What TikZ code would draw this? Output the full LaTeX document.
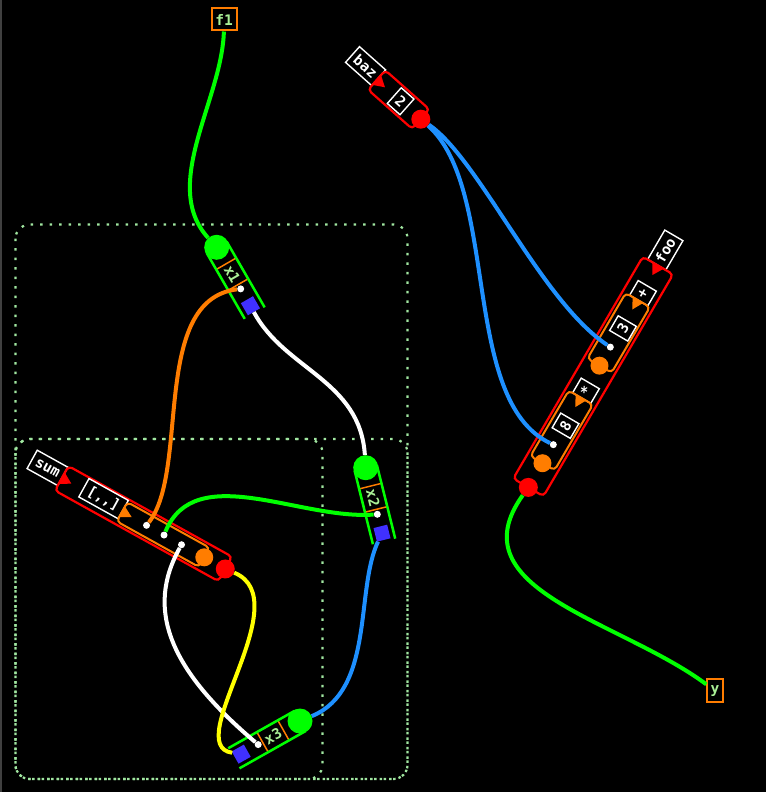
\documentclass[tikz,border=0pt]{standalone}
\usepackage{fontspec}
\setmonofont{DejaVu Sans Mono}
\newcommand\lfont{\ttfamily\bfseries\fontsize{14.5}{14.5}\selectfont}
\definecolor{vgreen}{RGB}{0,255,0}
\definecolor{vorange}{RGB}{255,125,0}
\definecolor{vblue}{RGB}{64,48,255}
\definecolor{wblue}{RGB}{30,144,255}
\definecolor{vyellow}{RGB}{255,255,0}
\definecolor{lgreen}{RGB}{170,240,150}
\definecolor{grpgreen}{RGB}{160,230,160}
\tikzset{
  wire/.style={line width=4pt},
  lbox/.style={draw=white, line width=1.4pt, text=white, font=\lfont, inner sep=0pt, minimum height=21pt},
  vtext/.style={text=lgreen, font=\lfont, inner sep=0pt},
  obox/.style={draw=vorange, line width=2pt, text=lgreen, font=\lfont, inner sep=0pt},
  gcirc/.style={circle, fill=vgreen, inner sep=0pt, minimum size=25pt},
  wdot/.style={circle, fill=white, inner sep=0pt, minimum size=7pt},
  bsq/.style={fill=vblue, inner sep=0pt, minimum size=14pt},
  rcirc/.style={circle, fill=red, inner sep=0pt, minimum size=19pt},
  ocirc/.style={circle, fill=vorange, inner sep=0pt, minimum size=18pt},
  redbox/.style={draw=red, line width=2.2pt, rounded corners=4pt},
  orangebox/.style={draw=vorange, line width=2pt, rounded corners=4pt},
  grp/.style={draw=grpgreen, line width=2.2pt, dash pattern=on 2.5pt off 7pt, rounded corners=14pt},
}
% variable tube: name, x, y, angle, text angle, label
\newcommand\vartube[6]{%
  \begin{scope}[shift={(#2,#3)}, rotate=#4]
    \draw[vorange, line width=1.5pt] (19,-11.5) rectangle (43,11.5);
    \node[vtext, rotate=#5] (#1-l) at (31,0) {#6};
    \draw[vgreen, line width=2.5pt] (0,-11.5) -- (76,-11.5) (0,11.5) -- (76,11.5);
    \node[gcirc] (#1-in) at (0,0) {};
    \node[wdot] (#1-out) at (48,0) {};
    \node[bsq, rotate=#4] (#1-sq) at (67.5,0) {};
  \end{scope}}
\begin{document}
\begin{tikzpicture}[x=1pt,y=-1pt]
\fill[black] (0,0) rectangle (766,792);
\useasboundingbox (0,0) rectangle (766,792);
\fill[black!75] (0,0) rectangle (1.5,792);

% groups
\draw[grp] (15.5,224.5) rectangle (407.5,779);
\draw[grp] (15.5,439) rectangle (407.5,779);
\draw[grp] (15.5,439) rectangle (322.5,779);

% inputs / outputs
\node[obox, minimum width=25pt, minimum height=22pt] (f1) at (224.2,19.5) {f1};
\node[obox, minimum width=15.4pt, minimum height=23pt] (ybox) at (715,690.8) {y};

% variables
\vartube{x1}{216.7}{247.3}{-60}{-60}{x1}
\vartube{x2}{365.7}{467.7}{-76}{-76}{x2}
\vartube{x3}{300}{721}{-150.6}{29.4}{x3}

% baz
\begin{scope}[shift={(376.7,80)}, rotate=-41.6]
  \node[lbox, minimum width=35pt, rotate=-41.6] (baz-lab) at (-17.5,-3) {baz};
  \draw[redbox] (0,-13) rectangle (59,13);
  \fill[red] (0,-6.5) -- (11,0) -- (0,6.5) -- cycle;
  \node[lbox, minimum width=17pt, rotate=-41.6] (baz-2) at (32,0) {2};
  \node[rcirc] (baz-out) at (59,0) {};
\end{scope}

% sum
\begin{scope}[shift={(61.7,478.3)}, rotate=-29]
  \node[lbox, minimum width=35pt, rotate=-29] (sum-lab) at (-17.5,-2.2) {sum};
  \draw[redbox] (0,-14) rectangle (187,14);
  \fill[red] (0,-6.5) -- (11,0) -- (0,6.5) -- cycle;
  \node[lbox, minimum width=45pt, rotate=-29] (sum-op) at (46.5,-2.5) {[,,]};
  \draw[orangebox] (69,-11) rectangle (163,11);
  \fill[vorange] (69,-6) -- (80,0) -- (69,6) -- cycle;
  \node[wdot] (sum-d1) at (97,0) {};
  \node[wdot] (sum-d2) at (117,0) {};
  \node[wdot] (sum-d3) at (137,0) {};
  \node[ocirc] (sum-oc) at (163,0) {};
  \node[rcirc] (sum-out) at (187,0) {};
\end{scope}

% foo
\begin{scope}[shift={(658,265.5)}, rotate=-120.3]
  \node[lbox, minimum width=34pt, rotate=59.7] (foo-lab) at (-17,1.5) {foo};
  \draw[redbox] (0,-17.5) rectangle (257,17.5);
  \fill[red] (0,-6.5) -- (11,0) -- (0,6.5) -- cycle;
  \node[lbox, minimum width=17pt, rotate=59.7] (foo-p) at (31.5,-1) {+};
  \draw[orangebox] (40,-14) rectangle (116,14);
  \fill[vorange] (40,-6) -- (51,0) -- (40,6) -- cycle;
  \node[lbox, minimum width=17pt, rotate=59.7] (foo-3) at (72,-1.5) {3};
  \node[wdot] (foo-d1) at (94.5,0) {};
  \node[ocirc] (foo-o1) at (116,0) {};
  \node[lbox, minimum width=17pt, rotate=59.7] (foo-m) at (144.5,-1) {*};
  \draw[orangebox] (153,-14) rectangle (229,14);
  \fill[vorange] (153,-6) -- (164,0) -- (153,6) -- cycle;
  \node[lbox, minimum width=17pt, rotate=59.7] (foo-8) at (185,-1) {8};
  \node[wdot] (foo-d2) at (207.5,0) {};
  \node[ocirc] (foo-o2) at (229,0) {};
  \node[rcirc] (foo-out) at (257,0) {};
\end{scope}

% wires
\draw[wire, vgreen] (f1) .. controls (222,100) and (160,185) .. (x1-in);
\draw[wire, vorange] (x1-out) .. controls (150,300) and (190,470) .. (sum-d1);
\draw[wire, white] (x1-sq) .. controls (285,370) and (360,380) .. (x2-in);
\draw[wire, vgreen] (x2-out) .. controls (300,520) and (195,460) .. (sum-d2);
\draw[wire, white] (sum-d3) .. controls (145,610) and (170,670) .. (x3-out);
\draw[wire, vyellow] (sum-out) .. controls (300,600) and (180,745) .. (x3-sq);
\draw[wire, wblue] (x2-sq) .. controls (355,590) and (375,690) .. (x3-in);
\draw[wire, wblue] (baz-out) .. controls (480,160) and (540,300) .. (foo-d1);
\draw[wire, wblue] (baz-out) .. controls (500,190) and (460,400) .. (foo-d2);
\draw[wire, vgreen] (foo-out) .. controls (455,590) and (620,620) .. (ybox);
\end{tikzpicture}
\end{document}
